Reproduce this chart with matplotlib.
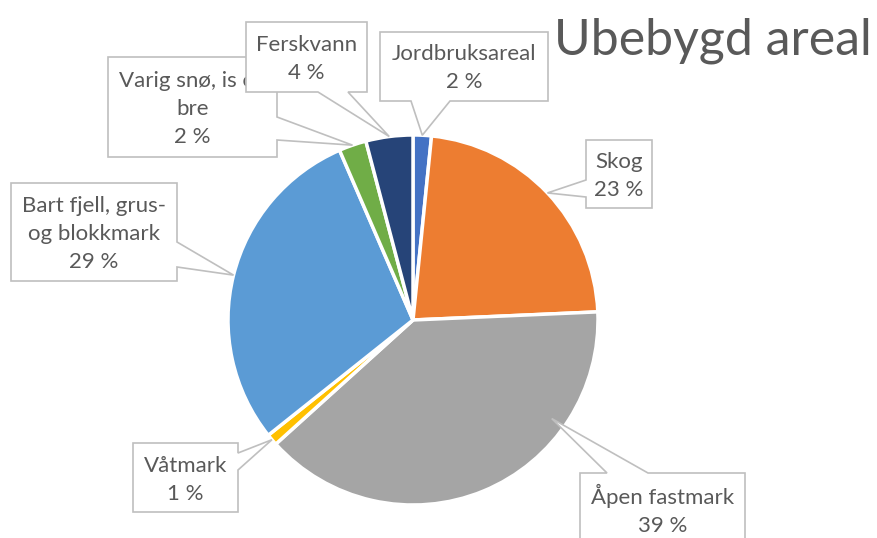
import numpy as np
import matplotlib
matplotlib.use('Agg')
import matplotlib.pyplot as plt
from matplotlib.patches import Polygon

plt.rcParams['font.family'] = ['Lato', 'DejaVu Sans']

# data (share of undeveloped area, %)
categories = ['Jordbruksareal', 'Skog', 'Åpen fastmark', 'Våtmark',
              'Bart fjell, grus-\nog blokkmark', 'Varig snø, is og\nbre', 'Ferskvann']
values = [1.6, 22.7, 39.0, 1.0, 29.2, 2.4, 4.1]
colors = ['#4472C4', '#ED7D31', '#A5A5A5', '#FFC000', '#5B9BD5', '#70AD47', '#264478']

# callout layout in pixel coords: box (x0, y0, x1, y1), side of wedge, wedge base, where along slice the tip sits
boxes = [(380, 32, 548, 101), (586, 140, 652, 208), (580, 473, 745, 543), (133, 443, 238, 512),
         (11, 183, 177, 281), (108, 57, 277, 157), (246, 22, 367, 92)]
sides = ['bottom', 'left', 'top', 'right', 'right', 'right', 'bottom']
bases = [(411, 450), (180, 197), (607, 648), (453, 470), (242, 267), (117, 140), (318, 348)]
tip_frac = [0.5, 0.5, 0.27, 0.5, 0.5, 0.5, 0.5]

W, H = 878, 538
cx, cy, R = 413, 320, 185
txt_color = '#595959'
border = '#BFBFBF'

fig = plt.figure(figsize=(W / 100, H / 100), dpi=100)
ax = fig.add_axes([0, 0, 1, 1])
ax.axis('off')

# y axis is inverted, so counterclock in data = clockwise on screen, -90 = top
wedges, _ = ax.pie(values, colors=colors, center=(cx, cy), radius=R,
                   startangle=-90, counterclock=True, frame=False,
                   wedgeprops=dict(edgecolor='white', linewidth=2.5))
ax.set_xlim(0, W)
ax.set_ylim(H, 0)
ax.set_aspect('auto')


def callout(box, side, base, tip, z):
    x0, y0, x1, y1 = box
    a, b = base
    if side == 'bottom':
        pts = [(x0, y0), (x1, y0), (x1, y1), (b, y1), tip, (a, y1), (x0, y1)]
    elif side == 'top':
        pts = [(x0, y0), (a, y0), tip, (b, y0), (x1, y0), (x1, y1), (x0, y1)]
    elif side == 'right':
        pts = [(x0, y0), (x1, y0), (x1, a), tip, (x1, b), (x1, y1), (x0, y1)]
    else:
        pts = [(x0, y0), (x1, y0), (x1, y1), (x0, y1), (x0, b), tip, (x0, a)]
    return Polygon(pts, closed=True, fc='white', ec=border, lw=1.2, zorder=z)


for i, w in enumerate(wedges):
    ang = np.deg2rad(w.theta1 + tip_frac[i] * (w.theta2 - w.theta1))
    rr = R * (0.92 if tip_frac[i] != 0.5 else 1.0)
    tip = (cx + rr * np.cos(ang), cy + rr * np.sin(ang))
    z = 5 + 2 * i
    ax.add_patch(callout(boxes[i], sides[i], bases[i], tip, z))
    x0, y0, x1, y1 = boxes[i]
    label = f'{categories[i]}\n{round(values[i]):.0f} %'
    ax.text((x0 + x1) / 2, (y0 + y1) / 2 + 2, label, ha='center', va='center',
            fontsize=16, color=txt_color, linespacing=1.5, zorder=z + 1)

ax.text(872, 55, 'Ubebygd areal', ha='right', va='baseline', fontsize=36,
        color=txt_color)

fig.savefig('out.png', dpi=100)
